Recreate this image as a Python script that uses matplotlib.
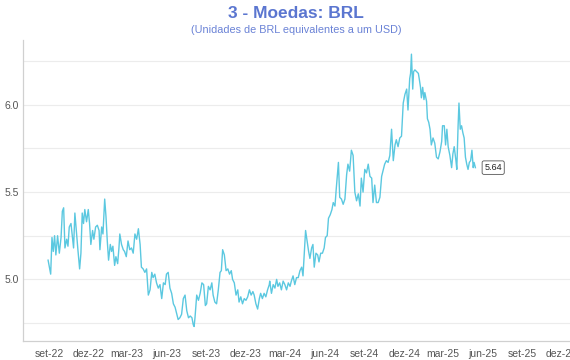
import pandas as pd
import matplotlib
matplotlib.use("Agg")
import matplotlib.pyplot as plt

plt.rcParams["font.family"] = ["Liberation Sans", "DejaVu Sans"]

# BRL per USD
dates = [
    "2022-08-30", "2022-09-05", "2022-09-08", "2022-09-11", "2022-09-14", "2022-09-17", "2022-09-21", "2022-09-25",
    "2022-09-29", "2022-10-02", "2022-10-05", "2022-10-08", "2022-10-12", "2022-10-15", "2022-10-18", "2022-10-22",
    "2022-10-25", "2022-10-28", "2022-10-31", "2022-11-04", "2022-11-07", "2022-11-11", "2022-11-14", "2022-11-17",
    "2022-11-20", "2022-11-23", "2022-11-27", "2022-12-01", "2022-12-04", "2022-12-07", "2022-12-11", "2022-12-14",
    "2022-12-18", "2022-12-22", "2022-12-26", "2022-12-28", "2023-01-01", "2023-01-04", "2023-01-08", "2023-01-11",
    "2023-01-14", "2023-01-17", "2023-01-21", "2023-01-24", "2023-01-27", "2023-01-31", "2023-02-03", "2023-02-07",
    "2023-02-10", "2023-02-12", "2023-02-16", "2023-02-20", "2023-02-23", "2023-02-27", "2023-03-03", "2023-03-07",
    "2023-03-11", "2023-03-15", "2023-03-19", "2023-03-23", "2023-03-27", "2023-03-31", "2023-04-03", "2023-04-07",
    "2023-04-11", "2023-04-15", "2023-04-19", "2023-04-23", "2023-04-27", "2023-04-30", "2023-05-04", "2023-05-08",
    "2023-05-12", "2023-05-16", "2023-05-20", "2023-05-24", "2023-05-28", "2023-05-31", "2023-06-04", "2023-06-08",
    "2023-06-12", "2023-06-16", "2023-06-20", "2023-06-24", "2023-06-27", "2023-07-01", "2023-07-05", "2023-07-09",
    "2023-07-13", "2023-07-17", "2023-07-21", "2023-07-25", "2023-07-29", "2023-08-01", "2023-08-03", "2023-08-05",
    "2023-08-09", "2023-08-13", "2023-08-17", "2023-08-21", "2023-08-25", "2023-08-29", "2023-09-01", "2023-09-05",
    "2023-09-09", "2023-09-13", "2023-09-16", "2023-09-20", "2023-09-24", "2023-09-28", "2023-10-02", "2023-10-05",
    "2023-10-08", "2023-10-12", "2023-10-16", "2023-10-20", "2023-10-24", "2023-10-28", "2023-10-31", "2023-11-04",
    "2023-11-08", "2023-11-12", "2023-11-15", "2023-11-19", "2023-11-23", "2023-11-27", "2023-12-01", "2023-12-05",
    "2023-12-09", "2023-12-13", "2023-12-17", "2023-12-20", "2023-12-24", "2023-12-28", "2024-01-01", "2024-01-04",
    "2024-01-08", "2024-01-12", "2024-01-16", "2024-01-20", "2024-01-24", "2024-01-25", "2024-01-29", "2024-02-02",
    "2024-02-06", "2024-02-10", "2024-02-13", "2024-02-17", "2024-02-21", "2024-02-25", "2024-02-29", "2024-03-04",
    "2024-03-08", "2024-03-12", "2024-03-15", "2024-03-19", "2024-03-23", "2024-03-27", "2024-03-31", "2024-04-04",
    "2024-04-08", "2024-04-11", "2024-04-15", "2024-04-17", "2024-04-20", "2024-04-24", "2024-04-27", "2024-05-01",
    "2024-05-04", "2024-05-07", "2024-05-11", "2024-05-15", "2024-05-18", "2024-05-22", "2024-05-26", "2024-05-30",
    "2024-06-02", "2024-06-06", "2024-06-09", "2024-06-13", "2024-06-17", "2024-06-20", "2024-06-24", "2024-06-27",
    "2024-06-30", "2024-07-02", "2024-07-05", "2024-07-09", "2024-07-13", "2024-07-17", "2024-07-21", "2024-07-24",
    "2024-07-28", "2024-08-01", "2024-08-05", "2024-08-09", "2024-08-13", "2024-08-17", "2024-08-21", "2024-08-24",
    "2024-08-28", "2024-09-01", "2024-09-05", "2024-09-09", "2024-09-13", "2024-09-17", "2024-09-20", "2024-09-24",
    "2024-09-28", "2024-10-02", "2024-10-06", "2024-10-10", "2024-10-13", "2024-10-17", "2024-10-21", "2024-10-25",
    "2024-10-29", "2024-11-02", "2024-11-06", "2024-11-10", "2024-11-13", "2024-11-17", "2024-11-21", "2024-11-25",
    "2024-11-29", "2024-12-03", "2024-12-07", "2024-12-10", "2024-12-14", "2024-12-16", "2024-12-18", "2024-12-21",
    "2024-12-23", "2024-12-26", "2024-12-30", "2025-01-03", "2025-01-05", "2025-01-08", "2025-01-10", "2025-01-13",
    "2025-01-16", "2025-01-18", "2025-01-22", "2025-01-24", "2025-01-27", "2025-01-30", "2025-02-02", "2025-02-06",
    "2025-02-10", "2025-02-14", "2025-02-18", "2025-02-22", "2025-02-26", "2025-02-28", "2025-03-04", "2025-03-07",
    "2025-03-10", "2025-03-13", "2025-03-17", "2025-03-21", "2025-03-24", "2025-03-27", "2025-03-31", "2025-04-02",
    "2025-04-05", "2025-04-07", "2025-04-10", "2025-04-13", "2025-04-16", "2025-04-19", "2025-04-22", "2025-04-25",
    "2025-04-28", "2025-05-01", "2025-05-04", "2025-05-07", "2025-05-10", "2025-05-12", "2025-05-15",
]
brl = [
    5.11, 5.03, 5.24, 5.16, 5.25, 5.14, 5.25, 5.15,
    5.24, 5.39, 5.41, 5.18, 5.23, 5.19, 5.30, 5.32,
    5.25, 5.18, 5.38, 5.26, 5.17, 5.06, 5.15, 5.38,
    5.32, 5.40, 5.33, 5.40, 5.32, 5.20, 5.28, 5.23,
    5.30, 5.31, 5.28, 5.17, 5.30, 5.26, 5.46, 5.36,
    5.22, 5.11, 5.20, 5.16, 5.19, 5.08, 5.13, 5.09,
    5.18, 5.26, 5.20, 5.17, 5.16, 5.13, 5.22, 5.17,
    5.18, 5.15, 5.26, 5.23, 5.29, 5.20, 5.07, 5.06,
    5.04, 5.06, 4.91, 4.94, 5.04, 5.01, 5.03, 4.98,
    4.95, 4.97, 4.89, 4.98, 4.97, 5.03, 5.04, 4.95,
    4.92, 4.86, 4.84, 4.80, 4.77, 4.78, 4.80, 4.89,
    4.91, 4.82, 4.78, 4.79, 4.78, 4.74, 4.73, 4.78,
    4.91, 4.88, 4.92, 4.98, 4.97, 4.85, 4.86, 4.96,
    4.94, 4.98, 4.91, 4.87, 4.86, 4.94, 5.04, 5.05,
    5.17, 5.14, 5.05, 5.06, 5.03, 5.05, 5.00, 4.98,
    4.91, 4.94, 4.87, 4.90, 4.86, 4.89, 4.88, 4.90,
    4.94, 4.91, 4.93, 4.91, 4.86, 4.83, 4.89, 4.92,
    4.89, 4.92, 4.90, 4.94, 4.97, 4.99, 4.92, 4.97,
    4.95, 5.00, 4.96, 4.98, 4.94, 4.99, 4.97, 4.94,
    4.98, 4.96, 4.99, 5.02, 4.97, 5.01, 5.01, 5.05,
    5.07, 5.02, 5.19, 5.28, 5.23, 5.16, 5.12, 5.18,
    5.20, 5.07, 5.15, 5.14, 5.10, 5.15, 5.15, 5.18,
    5.24, 5.25, 5.35, 5.37, 5.40, 5.44, 5.42, 5.52,
    5.61, 5.67, 5.47, 5.46, 5.43, 5.46, 5.60, 5.66,
    5.62, 5.74, 5.71, 5.50, 5.45, 5.49, 5.42, 5.58,
    5.50, 5.63, 5.61, 5.66, 5.59, 5.58, 5.44, 5.54,
    5.44, 5.44, 5.47, 5.59, 5.62, 5.66, 5.68, 5.67,
    5.71, 5.86, 5.68, 5.77, 5.80, 5.76, 5.81, 5.82,
    6.01, 6.06, 6.09, 5.97, 6.15, 6.18, 6.29, 6.09,
    6.19, 6.20, 6.19, 6.18, 6.15, 6.10, 6.04, 6.10,
    6.03, 6.07, 6.02, 5.92, 5.90, 5.86, 5.77, 5.81,
    5.78, 5.70, 5.69, 5.73, 5.79, 5.88, 5.88, 5.77,
    5.86, 5.76, 5.71, 5.64, 5.72, 5.76, 5.68, 5.63,
    5.88, 6.01, 5.86, 5.88, 5.84, 5.81, 5.70, 5.66,
    5.63, 5.67, 5.68, 5.74, 5.64, 5.67, 5.64,
]
last_label = "5.64"

tick_dates = ["2022-09-01", "2022-12-01", "2023-03-01", "2023-06-01", "2023-09-01", "2023-12-01",
              "2024-03-01", "2024-06-01", "2024-09-01", "2024-12-01", "2025-03-01", "2025-06-01",
              "2025-09-01", "2025-12-01"]
tick_labels = ["set-22", "dez-22", "mar-23", "jun-23", "set-23", "dez-23", "mar-24", "jun-24",
               "set-24", "dez-24", "mar-25", "jun-25", "set-25", "dez-25"]

x = pd.to_datetime(dates)

fig = plt.figure(figsize=(5.7, 3.6), dpi=100)
ax = fig.add_axes([0.0404, 0.0528, 0.9596, 0.836])

ax.plot(x, brl, color="#5bc8e0", lw=1.0)

ax.annotate(last_label, xy=(x[-1], brl[-1]), xytext=(9, 0), textcoords="offset pixels",
            ha="left", va="center", fontsize=6.5, color="#222222",
            bbox=dict(boxstyle="round,pad=0.25,rounding_size=0.2", fc="white", ec="#555555", lw=0.6))

ax.set_xlim(pd.Timestamp("2022-07-03"), pd.Timestamp("2025-12-20"))
ax.set_ylim(4.647, 6.371)

ax.set_yticks([5.0, 5.5, 6.0])
ax.set_yticklabels(["5.0", "5.5", "6.0"])
ax.set_yticks([4.75, 5.25, 5.75, 6.25], minor=True)
ax.set_xticks(pd.to_datetime(tick_dates))
ax.set_xticklabels(tick_labels)

ax.grid(True, which="both", axis="y", color="#ececec", lw=0.8)
ax.set_axisbelow(True)
ax.tick_params(axis="both", which="both", length=0, labelsize=7.5, labelcolor="#555555")
ax.tick_params(axis="x", pad=6)
ax.tick_params(axis="y", pad=3)

for side in ["top", "right"]:
    ax.spines[side].set_visible(False)
for side in ["left", "bottom"]:
    ax.spines[side].set_color("#d0d0d0")
    ax.spines[side].set_linewidth(0.9)

fig.text(0.52, 0.963, "3 - Moedas: BRL", ha="center", va="center", fontsize=12.5,
         fontweight="bold", color="#5b76d0")
fig.text(0.52, 0.918, "(Unidades de BRL equivalentes a um USD)", ha="center", va="center",
         fontsize=7.8, color="#6a82d6")

fig.savefig("out.png", dpi=100)
